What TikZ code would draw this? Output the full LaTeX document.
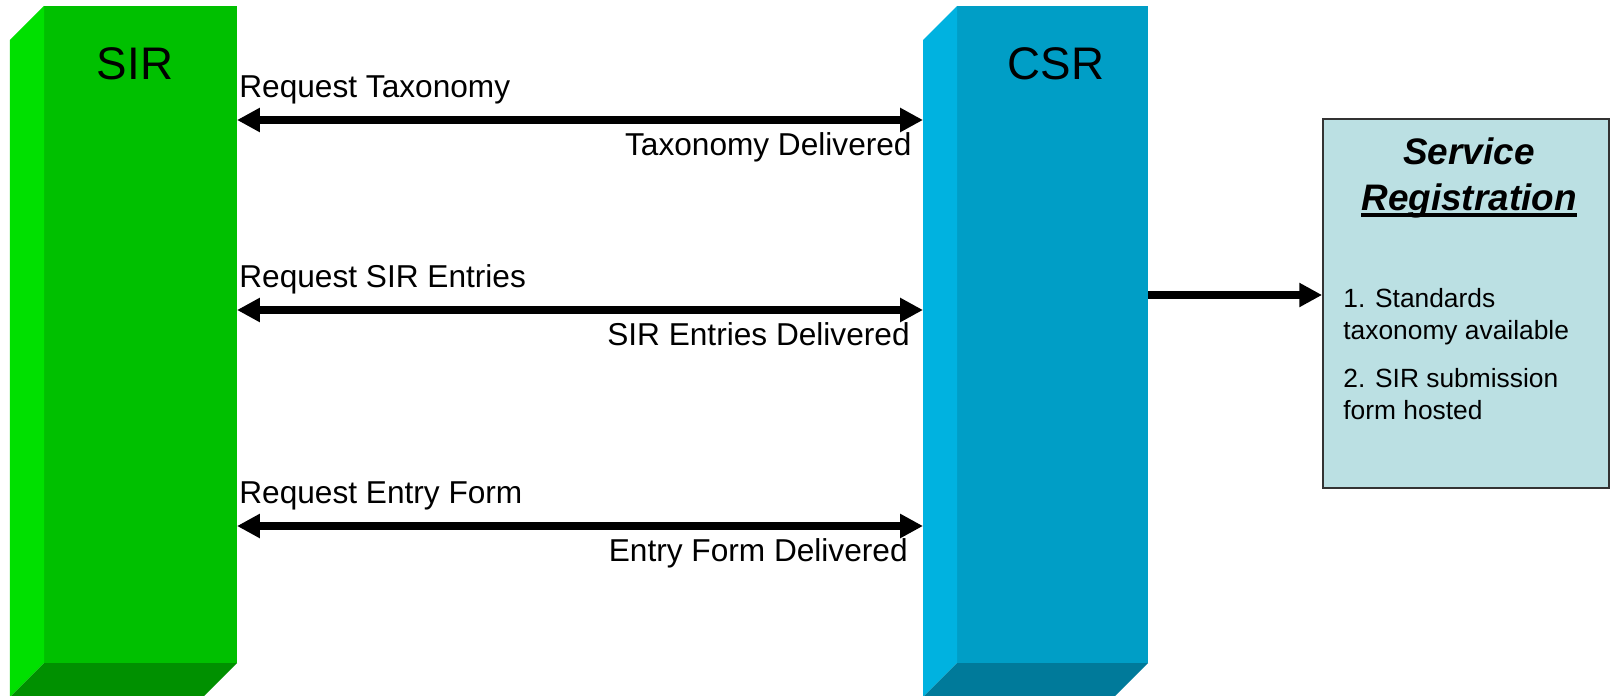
\documentclass[tikz,border=0pt]{standalone}
\usepackage{fontspec}
\setmainfont{Liberation Sans}
\usetikzlibrary{calc,arrows.meta}

\definecolor{sirfront}{RGB}{0,192,0}
\definecolor{sirside}{RGB}{0,224,0}
\definecolor{sirbase}{RGB}{0,144,0}
\definecolor{csrfront}{RGB}{0,158,198}
\definecolor{csrside}{RGB}{0,178,224}
\definecolor{csrbase}{RGB}{0,122,154}
\definecolor{regfill}{RGB}{187,224,227}

\begin{document}
\begin{tikzpicture}[>={Triangle[length=13pt,width=13pt]},
        msg/.style={line width=4.5pt, <->},
        lbl/.style={font=\fontsize{18}{21.6}\selectfont, inner sep=0pt},
        big/.style={font=\fontsize{26}{31}\selectfont, inner sep=0pt},
        item/.style={font=\fontsize{15}{18.2}\selectfont, inner sep=0pt, align=left, anchor=north west}]
        \useasboundingbox (0,0) rectangle (32.22,13.9);

        % SIR pillar
        \fill[sirfront] (0.88,0.64) rectangle (4.74,13.78);
        \fill[sirside] (0.88,13.78) -- (0.20,13.10) -- (0.20,-0.04) -- (0.88,0.64) -- cycle;
        \fill[sirbase] (0.88,0.64) -- (4.74,0.64) -- (4.06,-0.04) -- (0.20,-0.04) -- cycle;
        \node[big, anchor=base] (sir) at (2.70,12.30) {SIR};

        % CSR pillar
        \fill[csrfront] (19.14,0.64) rectangle (22.96,13.78);
        \fill[csrside] (19.14,13.78) -- (18.46,13.10) -- (18.46,-0.04) -- (19.14,0.64) -- cycle;
        \fill[csrbase] (19.14,0.64) -- (22.96,0.64) -- (22.28,-0.04) -- (18.46,-0.04) -- cycle;
        \node[big, anchor=base] (csr) at (21.12,12.30) {CSR};

        \coordinate (s1) at (4.74,11.50);
        \coordinate (c1) at (18.46,11.50);
        \coordinate (s2) at (4.74,7.70);
        \coordinate (c2) at (18.46,7.70);
        \coordinate (s3) at (4.74,3.38);
        \coordinate (c3) at (18.46,3.38);
        \coordinate (c4) at (22.96,8.00); % CSR right side

        % Messages between SIR and CSR
        \draw[msg] (s1) -- (c1);
        \node[lbl, anchor=base west] (q1) at ($(s1)+(0.04,0.46)$) {Request Taxonomy};
        \node[lbl, anchor=base east] (d1) at ($(c1)+(-0.22,-0.70)$) {Taxonomy Delivered};

        \draw[msg] (s2) -- (c2);
        \node[lbl, anchor=base west] (q2) at ($(s2)+(0.04,0.46)$) {Request SIR Entries};
        \node[lbl, anchor=base east] (d2) at ($(c2)+(-0.26,-0.70)$) {SIR Entries Delivered};

        \draw[msg] (s3) -- (c3);
        \node[lbl, anchor=base west] (q3) at ($(s3)+(0.04,0.46)$) {Request Entry Form};
        \node[lbl, anchor=base east] (d3) at ($(c3)+(-0.30,-0.70)$) {Entry Form Delivered};

        % Service registration box
        \node[draw=black!80, line width=1pt, fill=regfill, minimum width=5.72cm, minimum height=7.38cm, inner sep=0pt] (reg) at (29.32,7.83) {};
        \node[font=\fontsize{21}{25}\selectfont\bfseries\itshape, anchor=base, inner sep=0pt] (t1) at (29.38,10.62) {Service};
        \node[font=\fontsize{21}{25}\selectfont\bfseries\itshape, anchor=base, inner sep=0pt] (t2) at (29.38,9.70) {Registration};
        \draw[line width=2pt] ($(t2.base west)+(0,-0.1)$) -- ($(t2.base east)+(0,-0.1)$);
        \node[item] (i1) at (26.86,8.14) {1. Standards\\taxonomy available};
        \node[item] (i2) at (26.86,6.54) {2. SIR submission\\form hosted};

        \draw[line width=4.5pt, ->] (c4) -- (c4 -| reg.west);
    \end{tikzpicture}
\end{document}
